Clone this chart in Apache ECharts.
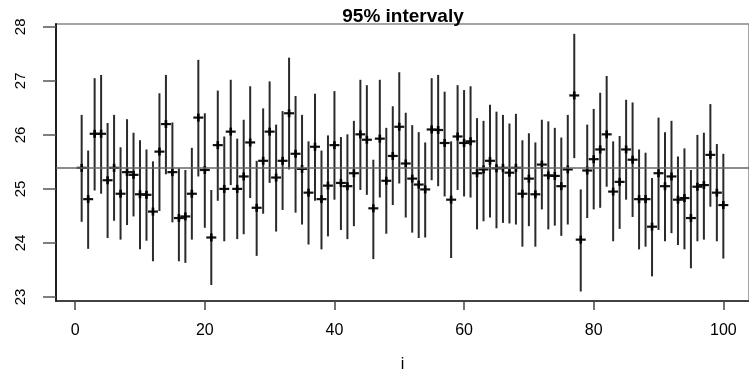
<!DOCTYPE html>
<html>
<head>
<meta charset="utf-8">
<script src="https://cdn.jsdelivr.net/npm/echarts@6/dist/echarts.min.js"></script>
<style>
  html, body { margin: 0; padding: 0; background: #fff; }
  #chart { width: 749px; height: 378px; }
</style>
</head>
<body>
<div id="chart"></div>
<script>
// odhady (stred) a 95% intervaly, i = 1..100
const center = [
  25.39, 24.81, 26.02, 26.02, 25.16, 25.39, 24.91, 25.31, 25.26, 24.90,
  24.89, 24.58, 25.69, 26.20, 25.31, 24.46, 24.49, 24.91, 26.32, 25.35,
  24.10, 25.81, 25.00, 26.06, 25.00, 25.23, 25.86, 24.65, 25.52, 26.06,
  25.21, 25.52, 26.40, 25.65, 25.37, 24.93, 25.78, 24.81, 25.06, 25.81,
  25.11, 25.05, 25.29, 26.01, 25.91, 24.64, 25.93, 25.15, 25.61, 26.15,
  25.47, 25.19, 25.08, 24.99, 26.10, 26.09, 25.85, 24.80, 25.97, 25.85,
  25.88, 25.29, 25.36, 25.52, 25.38, 25.39, 25.30, 25.39, 24.91, 25.19,
  24.90, 25.45, 25.25, 25.24, 25.05, 25.36, 26.73, 24.06, 25.34, 25.55,
  25.73, 26.01, 24.95, 25.13, 25.73, 25.54, 24.81, 24.81, 24.30, 25.29,
  25.05, 25.23, 24.80, 24.83, 24.46, 25.04, 25.07, 25.63, 24.93, 24.70
];
const lower = [
  24.39, 23.89, 24.97, 24.91, 24.09, 24.41, 24.06, 24.33, 24.49, 23.88,
  24.04, 23.66, 24.59, 25.27, 24.38, 23.66, 23.63, 24.06, 25.23, 24.28,
  23.22, 24.78, 24.03, 25.07, 24.07, 24.16, 24.83, 23.76, 24.54, 25.11,
  24.21, 24.61, 25.36, 24.56, 24.34, 23.97, 24.78, 23.88, 24.12, 24.80,
  24.24, 24.07, 24.31, 24.98, 24.89, 23.70, 24.84, 24.17, 24.70, 25.10,
  24.47, 24.19, 24.09, 24.10, 25.16, 25.05, 24.86, 23.72, 24.98, 24.86,
  24.84, 24.25, 24.40, 24.47, 24.27, 24.37, 24.36, 24.34, 23.93, 24.31,
  23.93, 24.62, 24.25, 24.32, 24.13, 24.34, 25.57, 23.10, 24.46, 24.62,
  24.65, 25.04, 24.03, 24.26, 24.80, 24.48, 23.88, 23.93, 23.38, 24.24,
  24.03, 24.18, 23.96, 23.88, 23.53, 24.03, 24.06, 24.67, 24.03, 23.71
];
const upper = [
  26.37, 25.71, 27.05, 27.11, 26.22, 26.37, 25.77, 26.29, 26.04, 25.90,
  25.73, 25.51, 26.77, 27.11, 26.23, 25.38, 25.35, 25.76, 27.39, 26.40,
  24.98, 26.82, 25.97, 27.02, 25.93, 26.28, 26.90, 25.52, 26.49, 26.99,
  26.19, 26.44, 27.43, 26.72, 26.37, 25.88, 26.76, 25.71, 25.99, 26.81,
  25.96, 26.01, 26.26, 27.02, 26.92, 25.54, 27.02, 26.13, 26.53, 27.16,
  26.41, 26.18, 26.05, 25.86, 27.05, 27.11, 26.80, 25.88, 26.92, 26.83,
  26.90, 26.31, 26.26, 26.56, 26.43, 26.37, 26.21, 26.39, 25.90, 26.03,
  25.86, 26.28, 26.25, 26.13, 25.95, 26.37, 27.87, 24.99, 26.19, 26.48,
  26.78, 27.09, 25.88, 25.98, 26.65, 26.60, 25.73, 25.67, 25.20, 26.32,
  26.05, 26.26, 25.60, 25.75, 25.35, 26.00, 26.04, 26.57, 25.83, 25.65
];
const trueMean = 25.4;
const xTicks = [0, 20, 40, 60, 80, 100];
const yTicks = [23, 24, 25, 26, 27, 28];

const data = center.map((c, k) => [k + 1, c, lower[k], upper[k]]);

const chart = echarts.init(document.getElementById('chart'));

const font = 'Liberation Sans, Arial, sans-serif';

const option = {
  animation: false,
  backgroundColor: '#fff',
  title: {
    text: '95% intervaly',
    left: 398,
    top: 2,
    textAlign: 'center',
    textStyle: { fontFamily: font, fontWeight: 'bold', fontSize: 19, color: '#000' }
  },
  grid: {
    left: 56, top: 24, width: 697, height: 289,
    show: true, borderColor: '#888', borderWidth: 1.5, backgroundColor: 'transparent'
  },
  xAxis: {
    type: 'value',
    min: -2.96,
    max: 103.96,
    name: 'i',
    nameLocation: 'middle',
    nameGap: 56,
    nameTextStyle: { fontFamily: font, fontSize: 16, color: '#000' },
    splitLine: { show: false },
    axisLine: { onZero: false, lineStyle: { color: '#222', width: 1.5 } },
    axisTick: { customValues: xTicks, length: 9, lineStyle: { color: '#444', width: 1.5 } },
    axisLabel: { customValues: xTicks, margin: 22, fontFamily: font, fontSize: 16, color: '#000' }
  },
  yAxis: {
    type: 'value',
    min: 22.924,
    max: 28.053,
    splitLine: { show: false },
    axisLine: { onZero: false, lineStyle: { color: '#111', width: 1.8 } },
    axisTick: { customValues: yTicks, length: 13, lineStyle: { color: '#555', width: 1.5 } },
    axisLabel: { customValues: yTicks, rotate: 90, margin: 28, fontFamily: font, fontSize: 15, color: '#000' }
  },
  series: [
    {
      type: 'custom',
      data: data,
      clip: true,
      renderItem: function (params, api) {
        const x = api.value(0);
        const c = api.coord([x, api.value(1)]);
        const lo = api.coord([x, api.value(2)]);
        const hi = api.coord([x, api.value(3)]);
        const hw = 5;
        return {
          type: 'group',
          children: [
            { type: 'line', shape: { x1: lo[0], y1: lo[1], x2: hi[0], y2: hi[1] },
              style: { stroke: '#2a2a2a', lineWidth: 2 } },
            { type: 'line', shape: { x1: c[0] - hw, y1: c[1], x2: c[0] + hw, y2: c[1] },
              style: { stroke: '#111', lineWidth: 2.2 } },
            { type: 'line', shape: { x1: c[0], y1: c[1] - 4, x2: c[0], y2: c[1] + 4 },
              style: { stroke: '#000', lineWidth: 2.6 } }
          ]
        };
      },
      markLine: {
        silent: true,
        symbol: 'none',
        label: { show: false },
        lineStyle: { color: '#666', width: 1.5, type: 'solid' },
        data: [{ yAxis: trueMean }]
      }
    }
  ]
};

chart.setOption(option);
</script>
</body>
</html>
